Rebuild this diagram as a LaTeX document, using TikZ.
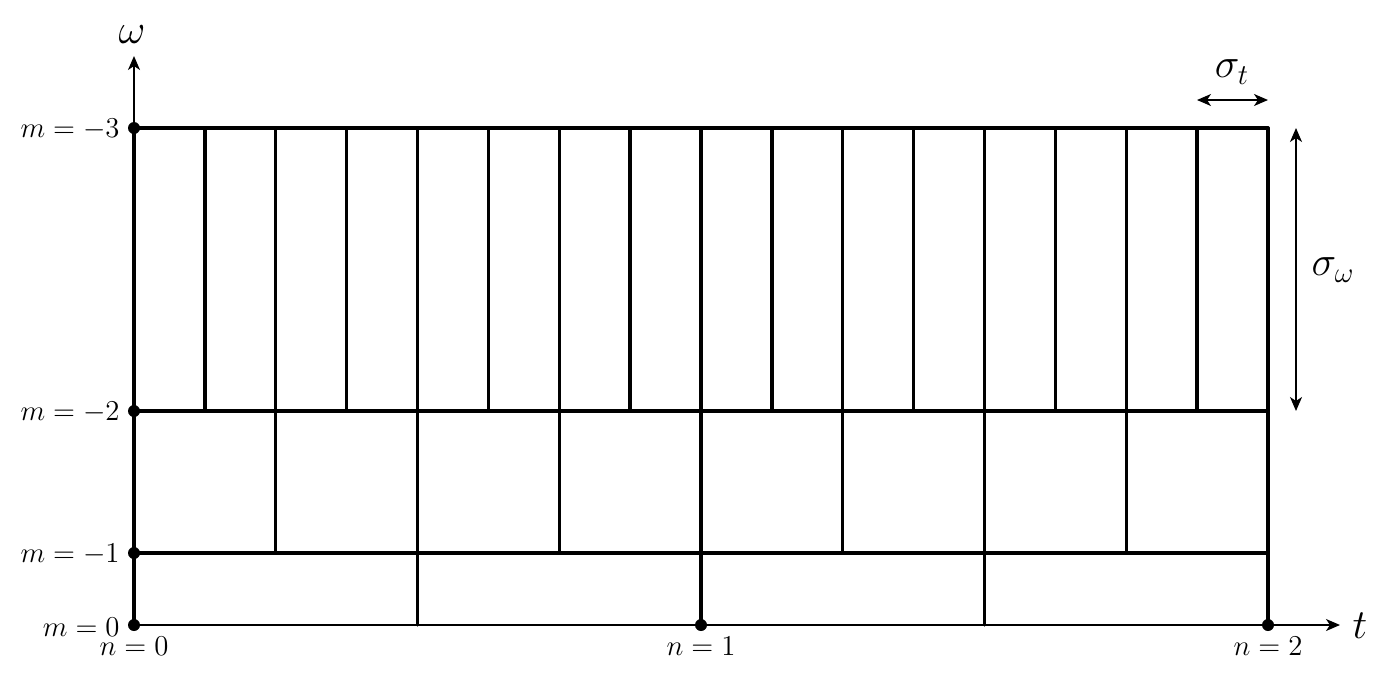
\documentclass[tikz,border=0pt]{standalone}
\usetikzlibrary{arrows.meta}
\begin{document}
\begin{tikzpicture}[x=0.5pt,y=-0.5pt,
  grid/.style={line width=1.7pt,line cap=round},
  axis/.style={line width=0.8pt,-{Stealth[length=7pt,width=6pt,inset=2pt]}},
  dim/.style={line width=0.8pt,{Stealth[length=7pt,width=6pt,inset=2pt]}-{Stealth[length=7pt,width=6pt,inset=2pt]}},
  dot/.style={circle,fill=black,inner sep=0pt,minimum size=6pt},
  small/.style={font=\fontsize{13.8}{16}\selectfont,inner sep=2pt},
  big/.style={font=\fontsize{21}{24}\selectfont,inner sep=0pt}]
\useasboundingbox (0,0) rectangle (1394,676);
% axes
\coordinate (O) at (134,625);
\coordinate (tend) at (1340,625);
\coordinate (wend) at (134,56);
\draw[axis] (O) -- (tend);
\draw[axis] (134,128) -- (wend);
\node[big] (tlab) at (1360,626) {$t$};
\node[big] (wlab) at (132,35) {$\omega$};
% grid
\draw[grid] (134,553) -- (1268,553);
\draw[grid] (134,411) -- (1268,411);
\draw[grid] (134,128) -- (1268,128);
\draw[grid] (134,625) -- (134,128);
\draw[grid] (1268,625) -- (1268,128);
\foreach \i in {1,2,3} \draw[grid] ({134+283.5*\i},625) -- ({134+283.5*\i},553);
\foreach \i in {1,...,7} \draw[grid] ({134+141.75*\i},553) -- ({134+141.75*\i},411);
\foreach \i in {1,...,15} \draw[grid] ({134+70.875*\i},411) -- ({134+70.875*\i},128);
% dots
\node[dot] (m3) at (134,128) {};
\node[dot] (m2) at (134,411) {};
\node[dot] (m1) at (134,553) {};
\node[dot] (m0) at (134,625) {};
\node[dot] (n1) at (701,625) {};
\node[dot] (n2) at (1268,625) {};
% labels
\node[small,anchor=east] at (124,129) {$m=-3$};
\node[small,anchor=east] at (124,412) {$m=-2$};
\node[small,anchor=east] at (124,554) {$m=-1$};
\node[small,anchor=east] at (124,627) {$m=0$};
\node[small,anchor=north] at (134,633) {$n=0$};
\node[small,anchor=north] at (701,633) {$n=1$};
\node[small,anchor=north] at (1268,633) {$n=2$};
% sigma dims
\coordinate (st1) at (1197,100);
\coordinate (st2) at (1268,100);
\draw[dim] (st1) -- (st2);
\node[big] (stlab) at (1232,72) {$\sigma_t$};
\coordinate (sw1) at (1296,128);
\coordinate (sw2) at (1296,411);
\draw[dim] (sw1) -- (sw2);
\node[big] (swlab) at (1333,270) {$\sigma_\omega$};
\end{tikzpicture}
\end{document}
